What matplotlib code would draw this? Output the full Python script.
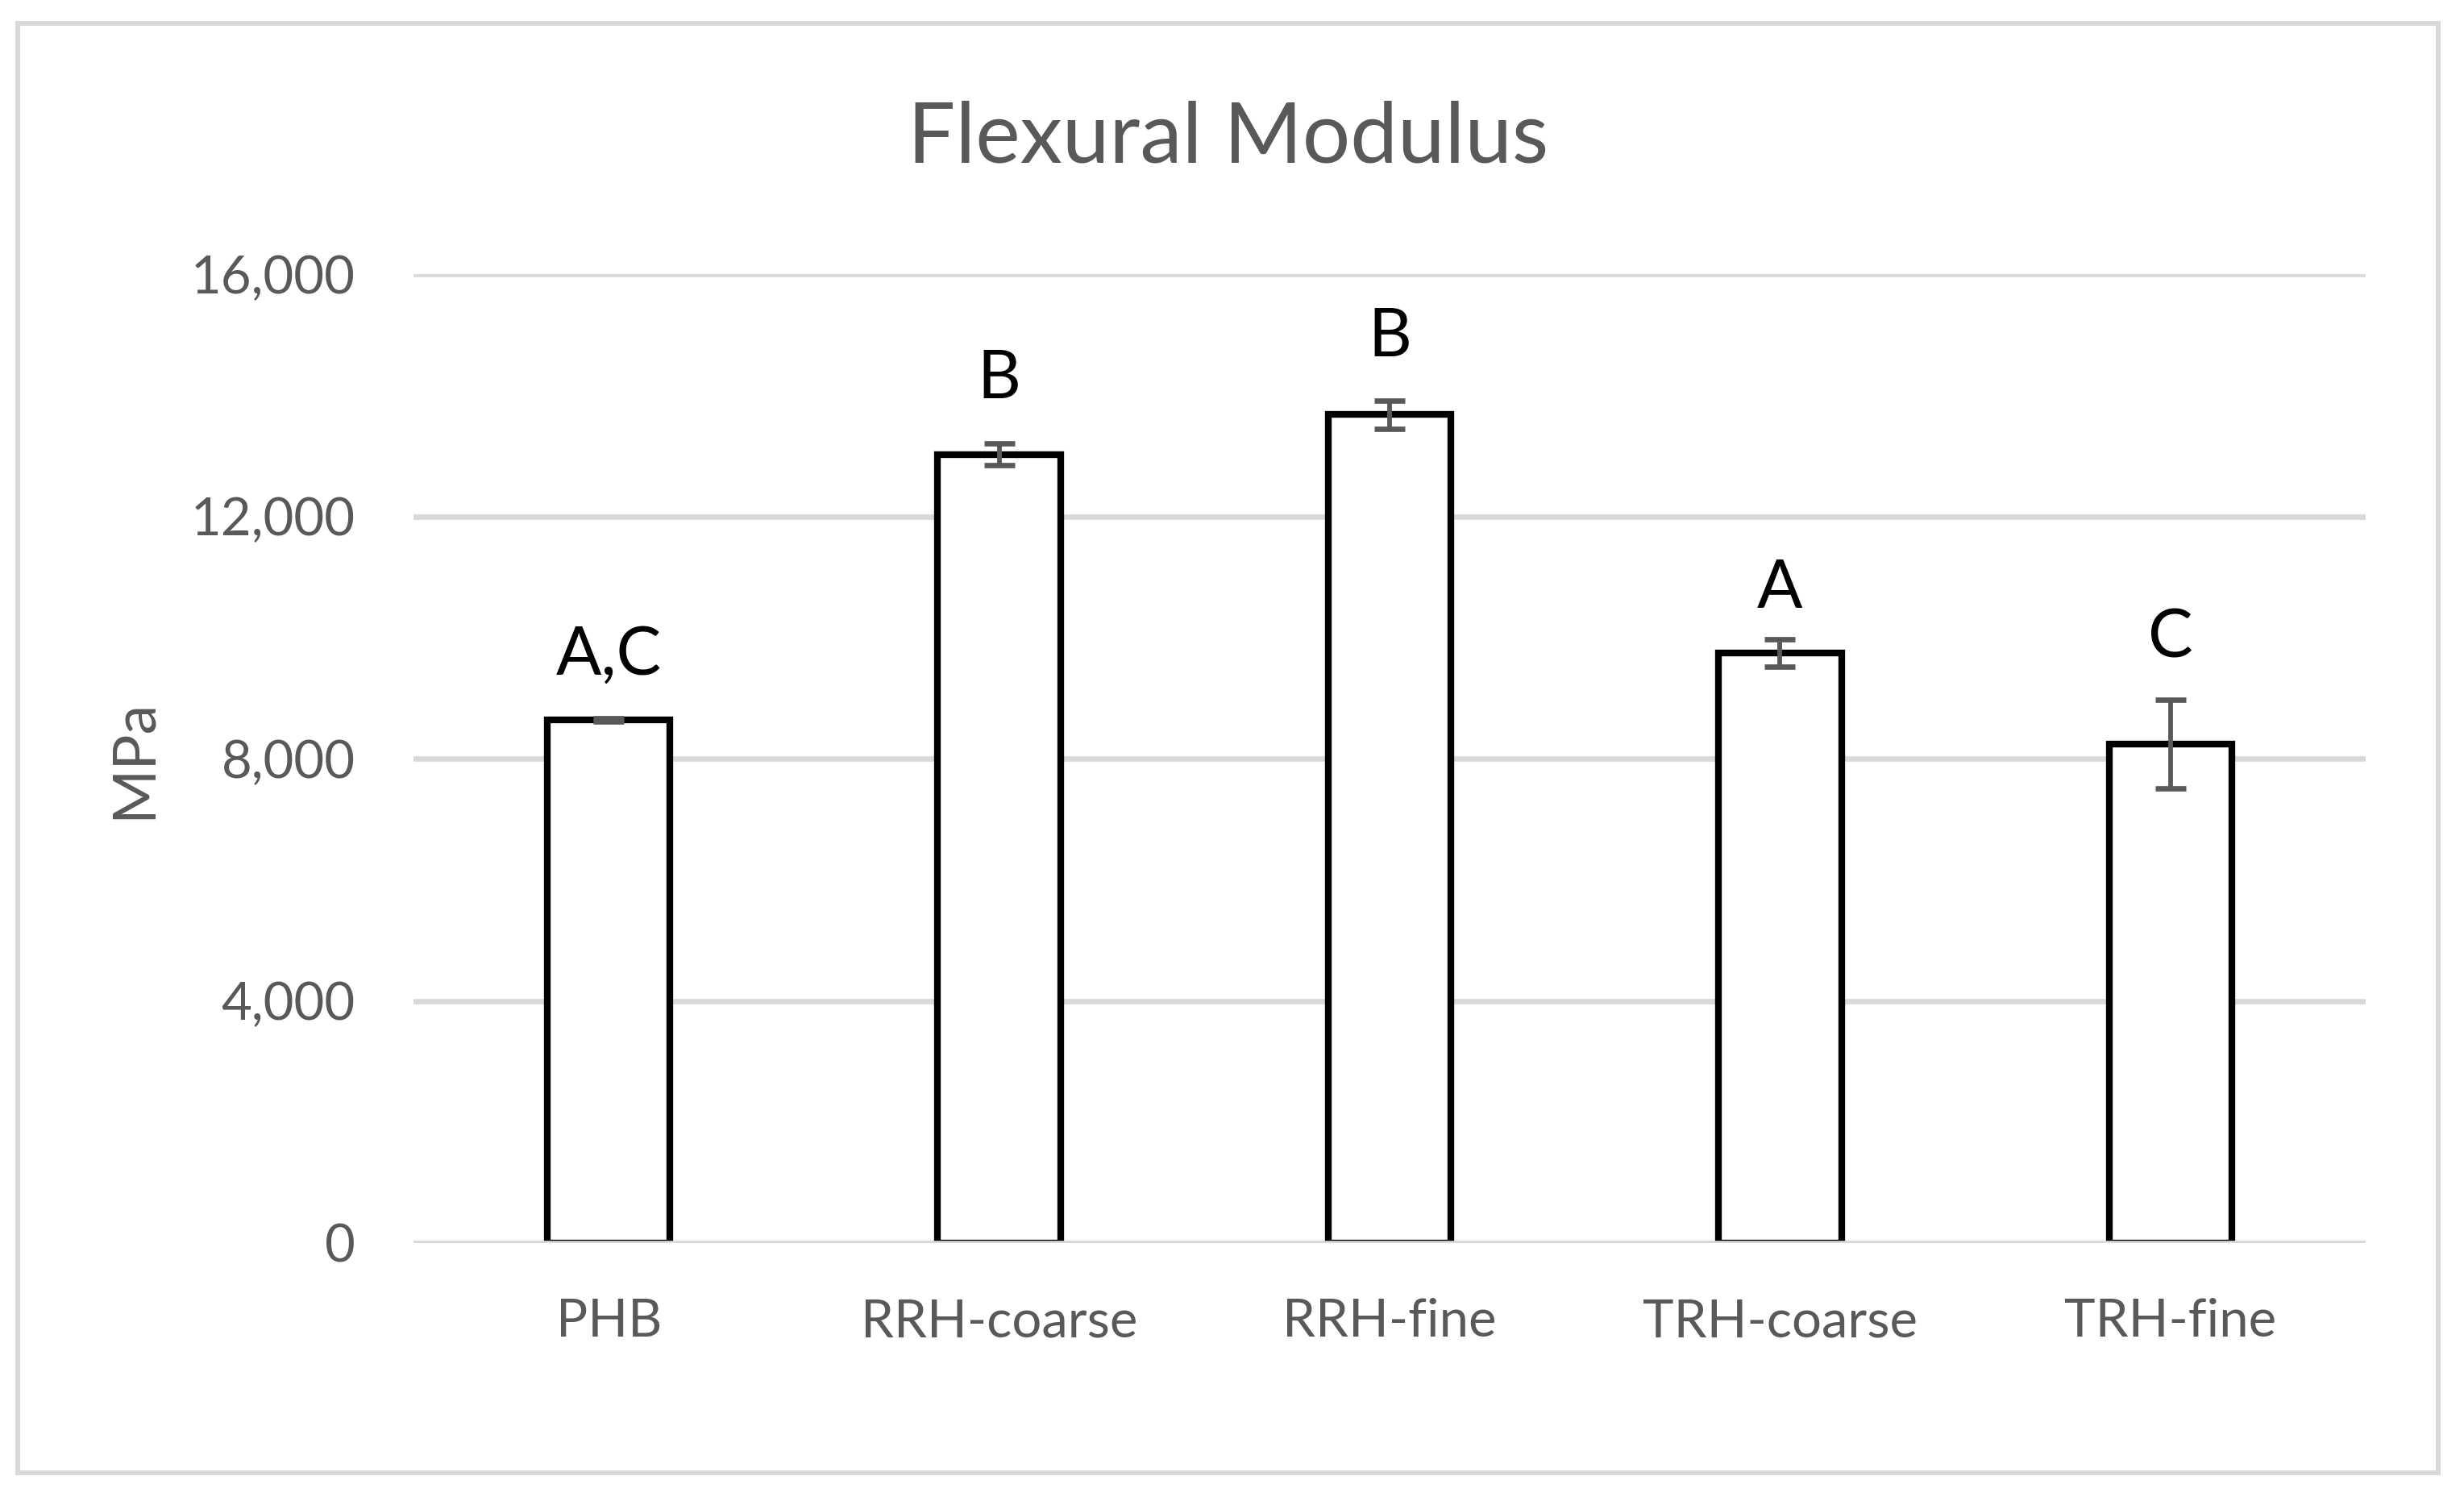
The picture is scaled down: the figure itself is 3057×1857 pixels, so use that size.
import numpy as np
import matplotlib.pyplot as plt
from matplotlib.patches import Rectangle
from matplotlib.ticker import FuncFormatter

plt.rcParams['font.family'] = ['Lato', 'DejaVu Sans']

# data
samples = ['PHB', 'RRH-coarse', 'RRH-fine', 'TRH-coarse', 'TRH-fine']
modulus = [8640, 13020, 13680, 9740, 8240]
modulus_err = [25, 180, 235, 225, 730]
letters = ['A,C', 'B', 'B', 'A', 'C']
letter_y = [9390, 13950, 14640, 10490, 9670]  # baseline of the letter labels

grey = '#595959'
grid = '#D9D9D9'

W, H = 3057, 1857
fig = plt.figure(figsize=(W / 100, H / 100), dpi=100)
ax = fig.add_axes([513 / W, 1 - 1542 / H, (2935 - 513) / W, (1542 - 340) / H])

x = np.arange(len(samples))
ax.bar(x, modulus, width=0.315, color='white', edgecolor='black', linewidth=6, zorder=2)
ax.errorbar(x, modulus, yerr=modulus_err, fmt='none', ecolor=grey,
            elinewidth=4.2, capsize=14, capthick=4.8, zorder=3)

for xi, lab, ly in zip(x, letters, letter_y):
    ax.text(xi, ly, lab, ha='center', va='baseline', fontsize=60, color='black', zorder=4)

ax.set_xlim(-0.5, len(samples) - 0.5)
ax.set_ylim(0, 16000)
ax.set_yticks(np.arange(0, 16001, 4000))
ax.yaxis.set_major_formatter(FuncFormatter(lambda v, p: f'{int(v):,}'))
ax.set_xticks(x)
ax.set_xticklabels(samples)
ax.tick_params(axis='both', length=0, labelsize=47, labelcolor=grey)
ax.tick_params(axis='y', pad=52)
ax.tick_params(axis='x', pad=49)
for s in ax.spines.values():
    s.set_visible(False)
ax.grid(axis='y', color=grid, linewidth=4.8, zorder=1)
ax.set_axisbelow(True)
# zero line sits over the bar bottoms
ax.axhline(0, color=grid, linewidth=4.8, zorder=2.5)

fig.text(1524 / W, 1 - 201 / H, 'Flexural Modulus', ha='center', va='baseline',
         fontsize=75.5, color=grey)
fig.text(166 / W, 1 - 941 / H, 'MPa', ha='center', va='center', rotation=90,
         fontsize=53, color=grey)

fig.patches.append(Rectangle((21.5 / W, 1 - 1826.5 / H), (3024.5 - 21.5) / W,
                             (1826.5 - 29) / H, transform=fig.transFigure,
                             fill=False, edgecolor=grid, linewidth=4.3))

fig.savefig('out.png', dpi=100, facecolor='white')
